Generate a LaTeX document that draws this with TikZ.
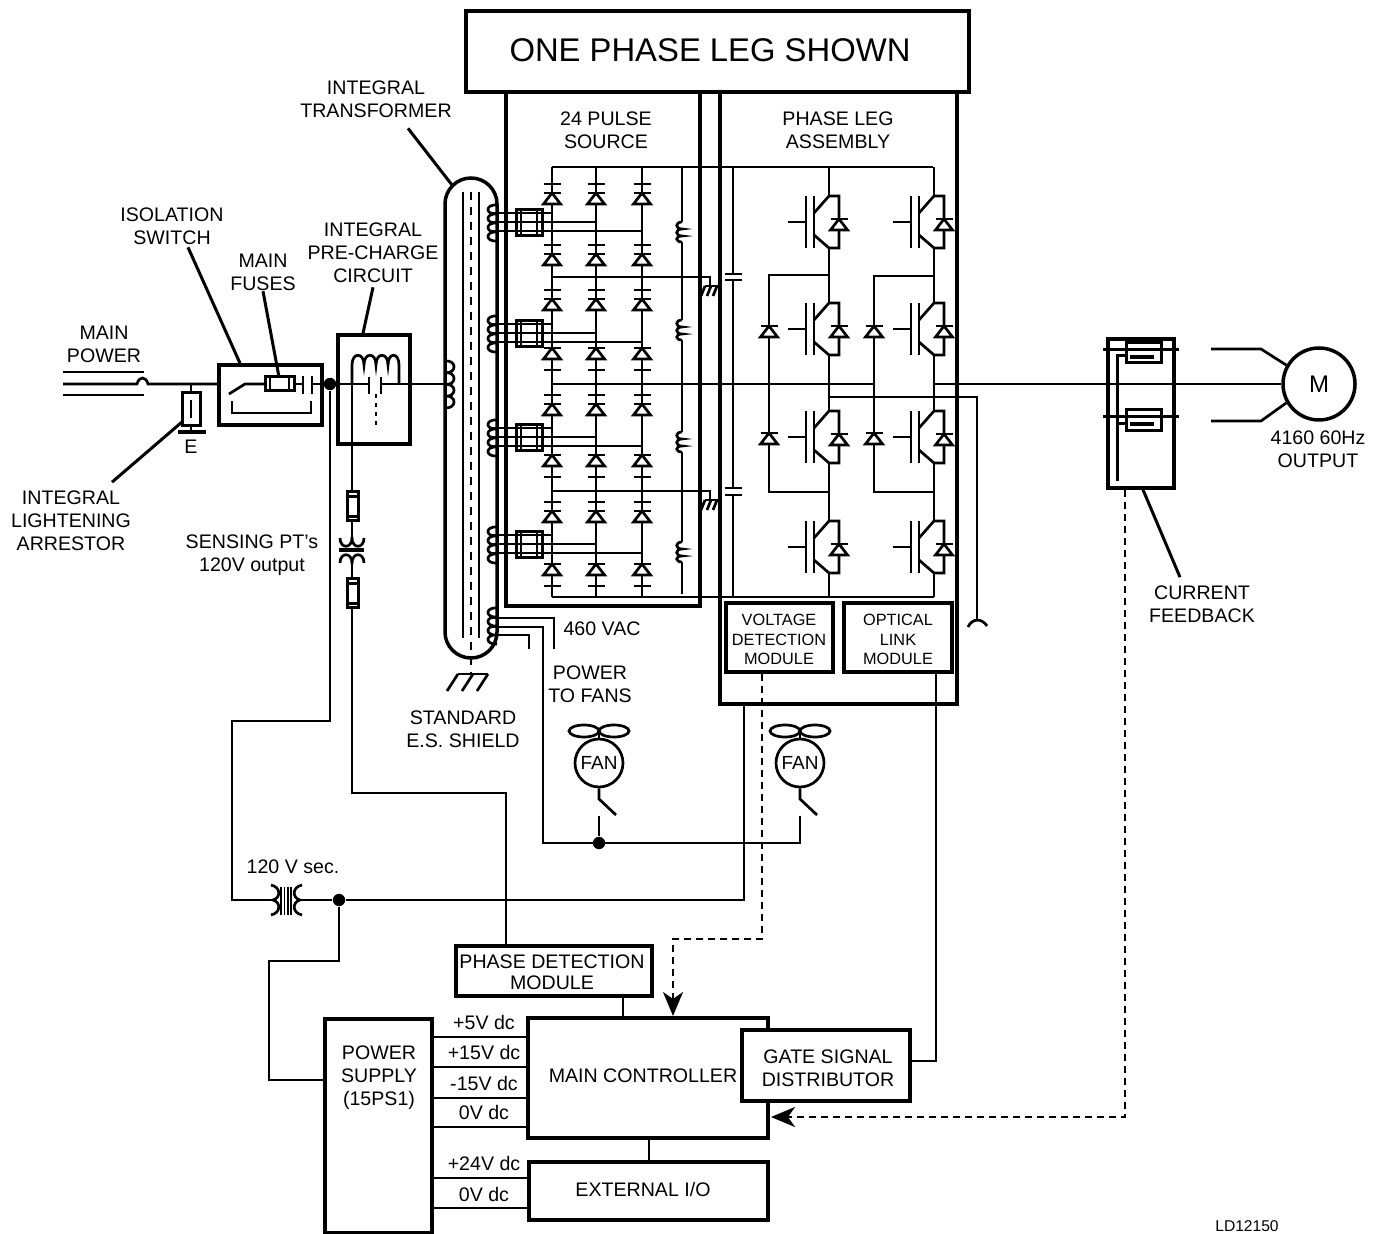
\documentclass[tikz,border=0pt]{standalone}
\usepackage{fontspec}
\setmainfont{Liberation Sans}
\usetikzlibrary{positioning, arrows.meta, calc}

\tikzset{
    wire/.style={line width=1.35pt},
    heavywire/.style={line width=1.75pt},
    leader/.style={line width=1.5pt},
    sigdash/.style={wire, dash pattern=on 3.5pt off 2.5pt},
    blockbox/.style={draw, line width=1.75pt, inner sep=0pt},
    lbl/.style={inner sep=0pt, align=center, font=\fontsize{9.8}{11.5}\selectfont},
    tinylbl/.style={inner sep=0pt, align=center, font=\fontsize{8.15}{9.75}\selectfont},
    joint/.style={circle, fill=black, inner sep=0pt, minimum size=6.2pt},
    fancirc/.style={circle, draw, wire, inner sep=0pt, minimum size=24pt, font=\fontsize{9.5}{11}\selectfont},
    sigtip/.style={-{Stealth[length=12pt, width=10pt, inset=3.5pt]}},
    pics/diodeup/.style={code={
        \draw[wire] (-8.5,0) -- (8.5,0);
        \draw[wire, fill=white] (0,0) -- (8.5,11) -- (-8.5,11) -- cycle;
    }},
    pics/platebar/.style={code={\draw[wire] (-8.5,0) -- (8.5,0);}},
    pics/igbt/.style={code={
        \draw[wire] (-41,26) -- (-23,26);
        \draw[wire] (-23,0) -- (-23,52);
        \draw[wire] (-15,0) -- (-15,52);
        \draw[wire] (-15,17) -- (0,0) -- (10,0) -- (10,52) -- (0,52) -- (-15,39);
        \pic at (10,23) {diodeup};
    }},
    pics/coilbank/.style={code={
        \draw[wire] (0,0) .. controls (-12,-1) and (-12,10) .. (0,9)
            .. controls (-12,8) and (-12,19) .. (0,18)
            .. controls (-12,17) and (-12,28) .. (0,27)
            .. controls (-12,26) and (-12,37) .. (0,36);
    }},
    pics/squiggle/.style={code={
        \draw[wire] (0,0) .. controls (-7,0) and (-7,7) .. (0,7)
            .. controls (-7,7) and (-7,14) .. (0,14)
            .. controls (-7,14) and (-7,20) .. (0,20);
    }},
    pics/fusehoriz/.style={code={
        \draw[leader] (-14.5,-7) rectangle (14.5,7);
        \draw[wire] (-9.5,-7) -- (-9.5,7);
        \draw[wire] (9.5,-7) -- (9.5,7);
    }},
    pics/fusevert/.style={code={
        \draw[leader] (-5.5,-14.5) rectangle (5.5,14.5);
        \draw[wire] (-5.5,-10) -- (5.5,-10);
        \draw[wire] (-5.5,10) -- (5.5,10);
    }},
    pics/slashground/.style={code={
        \draw[wire] (-6,0) -- (7,0);
        \foreach \sx in {-6,0,6} {\draw[wire] (\sx,0) -- (\sx-4,10);}
    }},
    pics/blades/.style={code={
        \draw[wire] (-15,0) ellipse (15 and 6);
        \draw[wire] (15,0) ellipse (15 and 6);
    }}
}

\begin{document}
\begin{tikzpicture}[x=0.5pt, y=-0.5pt]
    \path[use as bounding box, fill=white] (0,0) rectangle (1381,1234);

    % Large frames
    \node[blockbox, minimum width=97pt, minimum height=257pt] (srcbox) at (603,349) {};
    \node[blockbox, minimum width=118.5pt, minimum height=306pt] (legbox) at (838.5,398) {};
    \node[blockbox, fill=white, minimum width=251.5pt, minimum height=40.5pt] (titlebox) at (717.5,51.5) {};
    \node[lbl, font=\fontsize{16.4}{18}\selectfont] (titlelabel) at (710,50) {ONE PHASE LEG SHOWN};
    \node[lbl] (srclabel) at (606,130.5) {24 PULSE\\SOURCE};
    \node[lbl] (leglabel) at (838,130.5) {PHASE LEG\\ASSEMBLY};

    % Incoming power
    \node[lbl] (powerlabel) at (104,344) {MAIN\\POWER};
    \draw[wire] (63,372) -- (144,372);
    \draw[wire] (63,395) -- (144,395);
    \node[blockbox, minimum width=51.5pt, minimum height=30pt] (isolbox) at (270.5,395) {};
    \draw[wire] (63,384) -- (137,384) .. controls (139,376) and (146,376) .. (148,384) -- (isolbox.west |- 0,384);
    \node[blockbox, line width=1.5pt, minimum width=9pt, minimum height=16.5pt] (arrestbox) at (191,409.5) {};
    \draw[wire] (arrestbox.north |- 0,384) -- (arrestbox.north);
    \draw[wire] (191,400) -- (191,418);
    \draw[wire] (arrestbox.south) -- (191,432);
    \draw[heavywire] (178,432) -- (206,432);
    \node[lbl] (earthlabel) at (191,447) {E};
    \node[lbl] (arrestlabel) at (71,520.5) {INTEGRAL\\LIGHTENING\\ARRESTOR};
    \draw[leader] (182,422) -- ([xshift=20.5pt,yshift=4pt]arrestlabel.north);

    % Isolation switch and fuses
    \draw[wire] (229,394) -- (245,384) -- (265,384);
    \pic at (279.5,384) {fusehoriz};
    \draw[wire] (294,384) -- (303,384);
    \draw[wire] (303,376) -- (303,394);
    \draw[wire] (312,376) -- (312,394);
    \draw[wire] (232,401) -- (232,413) -- (311,413) -- (311,401);
    \node[joint] (jointa) at (330,384) {};
    \draw[wire] (312,384) -- (jointa);
    \node[lbl] (isollabel) at (172,226.5) {ISOLATION\\SWITCH};
    \draw[leader] ([xshift=8pt,yshift=-1pt]isollabel.south) -- (240,0 |- isolbox.north);
    \node[lbl] (fuselabel) at (263,272.5) {MAIN\\FUSES};
    \draw[leader] (fuselabel.south) -- (279,377);

    % Pre-charge circuit
    \node[blockbox, minimum width=36pt, minimum height=54.5pt] (chargebox) at (374,389.5) {};
    \node[lbl] (chargelabel) at (373,253) {INTEGRAL\\PRE-CHARGE\\CIRCUIT};
    \draw[leader] ([yshift=-2pt]chargelabel.south) -- (363,0 |- chargebox.north);
    \draw[wire] (jointa) -- (369,384);
    \draw[wire] (369,377) -- (369,394);
    \draw[wire] (381,377) -- (381,394);
    \draw[wire] (381,384) -- (445,384);
    \draw[wire] (352,384) -- (352,365) .. controls (352,352) and (364,352) .. (364,365)
        .. controls (364,352) and (376,352) .. (376,365)
        .. controls (376,352) and (388,352) .. (388,365)
        .. controls (388,352) and (399,352) .. (399,365) -- (399,384);
    \draw[wire, dash pattern=on 2pt off 2.5pt] (376,394) -- (376,430);

    % Sensing PT
    \draw[wire] (352,384) -- (352,492);
    \pic at (352.5,506.5) {fusevert};
    \draw[wire] (352,521) -- (352,538);
    \draw[wire] (340,538) .. controls (340,549) and (352,549) .. (352,538) .. controls (352,549) and (364,549) .. (364,538);
    \draw[heavywire] (339,550) -- (364,550);
    \draw[wire] (340,563) .. controls (340,552) and (352,552) .. (352,563) .. controls (352,552) and (364,552) .. (364,563);
    \draw[wire] (352,563) -- (352,579);
    \pic at (352.5,593.5) {fusevert};
    \node[lbl] (sensinglabel) at (252,555.5) {SENSING PT's\\120V output};

    % Integral transformer
    \draw[heavywire] (445,204) arc[start angle=180, end angle=360, radius=26] -- (497,632) arc[start angle=0, end angle=180, radius=26] -- cycle;
    \draw[wire] (463,192) -- (463,638);
    \draw[wire] (479,192) -- (479,638);
    \draw[wire, dash pattern=on 4pt off 3.5pt] (471,192) -- (471,673);
    \draw[wire] (458,674) -- (488,674);
    \draw[wire] (458,674) -- (447,691);
    \draw[wire] (473,674) -- (462,691);
    \draw[wire] (488,674) -- (477,691);
    \pic[xscale=-1, yscale=1.3] at (445,361) {coilbank};
    \node[lbl] (translabel) at (376,99.5) {INTEGRAL\\TRANSFORMER};
    \draw[leader] ([xshift=16pt,yshift=-5pt]translabel.south) -- (452,185);
    \node[lbl] (shieldlabel) at (463,729.5) {STANDARD\\E.S. SHIELD};

    % Secondary windings into the bridge
    \draw[wire] (552,167) -- (933,167);
    \draw[wire] (552,597) -- (934,597);
    \foreach \cx in {552,596,642} {
        \draw[wire] (\cx,167) -- (\cx,597);
        \foreach \ry in {184,245,290,395,502} {
            \pic at (\cx,\ry) {platebar};
            \pic at (\cx,\ry+9) {diodeup};
        }
        \foreach \ry in {348,455,564} {
            \pic at (\cx,\ry) {diodeup};
            \pic at (\cx,\ry+22) {platebar};
        }
    }
    \foreach \ty in {205,316,420,527} {
        \pic at (497,\ty) {coilbank};
        \draw[wire] (489,\ty+8) -- (552,\ty+8);
        \draw[wire] (489,\ty+17) -- (596,\ty+17);
        \draw[wire] (489,\ty+26) -- (642,\ty+26);
        \draw[leader] (516,\ty+5) rectangle (542,\ty+31);
        \draw[wire] (521,\ty+5) -- (521,\ty+31);
        \draw[wire] (537,\ty+5) -- (537,\ty+31);
    }
    \pic at (497,608) {coilbank};
    \draw[wire] (489,618) -- (554,618) -- (554,649);
    \draw[wire] (489,635) -- (529,635) -- (529,649);
    \node[lbl] (vaclabel) at (602,629) {460 VAC};
    \node[lbl] (fanslabel) at (590,684.5) {POWER\\TO FANS};

    % Neutral buses and reactors
    \draw[wire] (552,277) -- (710,277) -- (710,286);
    \pic at (711,286) {slashground};
    \draw[wire] (552,491) -- (710,491) -- (710,500);
    \pic at (711,500) {slashground};
    \foreach \ya/\yb in {167/222,242/320,340/432,452/542,562/594} {\draw[wire] (682,\ya) -- (682,\yb);}
    \foreach \ty in {222,320,432,542} {\pic at (682,\ty) {squiggle};}

    % Phase leg
    \draw[wire] (733,167) -- (733,274);
    \draw[wire] (733,280) -- (733,488);
    \draw[wire] (733,495) -- (733,597);
    \foreach \ry in {274,280,488,495} {\draw[wire] (725,\ry) -- (742,\ry);}
    \foreach \cx in {829,934} {
        \draw[wire] (\cx,167) -- (\cx,196);
        \draw[wire] (\cx,248) -- (\cx,303);
        \draw[wire] (\cx,356) -- (\cx,411);
        \draw[wire] (\cx,463) -- (\cx,521);
        \draw[wire] (\cx,573) -- (\cx,597);
        \foreach \ty in {196,303,411,521} {\pic at (\cx,\ty) {igbt};}
    }
    \draw[wire] (829,275) -- (769,275) -- (769,492) -- (829,492);
    \draw[wire] (934,276) -- (874,276) -- (874,492) -- (934,492);
    \foreach \cx in {769,874} {
        \pic at (\cx,326) {diodeup};
        \pic at (\cx,433) {diodeup};
    }
    \draw[wire] (552,384) -- (874,384);
    \draw[wire] (829,397) -- (977,397) -- (977,621);
    \draw[wire] (968,627) .. controls (972,618) and (982,618) .. (987,626);
    \node[blockbox, minimum width=53.5pt, minimum height=34.5pt] (voltbox) at (779.5,637.5) {};
    \node[tinylbl] (voltlabel) at (779,639.5) {VOLTAGE\\DETECTION\\MODULE};
    \node[blockbox, minimum width=54pt, minimum height=34.5pt] (opticbox) at (898,637.5) {};
    \node[tinylbl] (opticlabel) at (898,639.5) {OPTICAL\\LINK\\MODULE};

    % Current feedback and motor
    \node[blockbox, minimum width=33pt, minimum height=74.5pt] (sensebox) at (1141,413.5) {};
    \node[circle, draw, heavywire, inner sep=0pt, minimum size=36pt, font=\fontsize{12}{14}\selectfont] (motor) at (1319,384) {M};
    \draw[wire] (934,384) -- (motor.west);
    \draw[leader] (1103,350) -- (1179,350);
    \draw[leader] (1103,417) -- (1179,417);
    \draw[leader] (1126,343) rectangle (1161,363);
    \draw[leader] (1126,410) rectangle (1161,431);
    \draw[heavywire] (1130,357) -- (1154,357);
    \draw[heavywire] (1130,424) -- (1154,424);
    \draw[leader] (1126,356) -- (1117,356) -- (1117,481);
    \draw[leader] (1117,424) -- (1126,424);
    \draw[wire] (1211,349) -- (1261,349) -- (motor.150);
    \draw[wire] (1211,421) -- (1261,421) -- (motor.210);
    \node[lbl] (outlabel) at (1318,449) {4160 60Hz\\OUTPUT};
    \node[lbl] (fblabel) at (1202,604) {CURRENT\\FEEDBACK};
    \draw[leader] (1143,0 |- sensebox.south) -- ([xshift=-11pt,yshift=4pt]fblabel.north);

    % Fans
    \node[joint] (jointb) at (599,843) {};
    \draw[wire] (489,627) -- (543,627) -- (543,843) -- (800,843) -- (800,816);
    \node[fancirc] (fanleft) at (599,763) {FAN};
    \node[fancirc] (fanright) at (800,763) {FAN};
    \draw[wire] (jointb) -- (599,816);
    \foreach \fan/\cx in {fanleft/599,fanright/800} {
        \pic at (\cx,731) {blades};
        \draw[wire] (\cx,731) -- (\fan.north);
        \draw[wire] (\fan.south) -- (\cx,799) -- (\cx+17,815);
    }

    % Low voltage distribution
    \node[joint] (jointc) at (339,900) {};
    \draw[wire] (jointa) -- (330,721) -- (232,721) -- (232,900) -- (273,900);
    \draw[wire] (271,885) .. controls (281,887) and (281,898) .. (273,900) .. controls (281,902) and (281,913) .. (271,915);
    \draw[wire] (302,885) .. controls (292,887) and (292,898) .. (300,900) .. controls (292,902) and (292,913) .. (302,915);
    \foreach \cx in {281,284.3,287.7,291} {\draw[line width=0.8pt] (\cx,887) -- (\cx,915);}
    \draw[wire] (300,900) -- (jointc) -- (744,900) -- (744,0 |- legbox.south);
    \node[lbl] (seclabel) at (293,867) {120 V sec.};

    % Control blocks
    \node[blockbox, minimum width=98pt, minimum height=25pt] (phasebox) at (554,971) {};
    \node[lbl, font=\fontsize{9.8}{10.5}\selectfont] (phaselabel) at (552,972.5) {PHASE DETECTION\\MODULE};
    \node[blockbox, minimum width=120pt, minimum height=60pt] (mainbox) at (648,1078) {};
    \node[lbl] (mainlabel) at (643,1076) {MAIN CONTROLLER};
    \node[blockbox, fill=white, minimum width=84pt, minimum height=35.5pt] (gatebox) at (826,1065.5) {};
    \node[lbl] (gatelabel) at (828,1068.5) {GATE SIGNAL\\DISTRIBUTOR};
    \node[blockbox, minimum width=53.5pt, minimum height=107pt] (psubox) at (378.5,1126) {};
    \node[lbl] (psulabel) at (379,1077.5) {POWER\\SUPPLY\\(15PS1)};
    \node[blockbox, minimum width=119.5pt, minimum height=29pt] (iobox) at (648.5,1191) {};
    \node[lbl] (iolabel) at (643,1189) {EXTERNAL I/O};
    \draw[wire] (352,608) -- (352,793) -- (506,793) -- (506,0 |- phasebox.north);
    \draw[wire] (623,0 |- phasebox.south) -- (623,0 |- mainbox.north);
    \draw[wire] (649,0 |- mainbox.south) -- (649,0 |- iobox.north);
    \draw[wire] (jointc) -- (339,961) -- (269,961) -- (269,1080) -- (psubox.west |- 0,1080);
    \draw[wire] (936,0 |- opticbox.south) -- (936,1061) -- (gatebox.east |- 0,1061);
    \foreach \ry/\rt/\vname in {1037/1022/{+5V dc},1067/1052/{+15V dc},1098/1083/{-15V dc},1127/1112/{0V dc}} {
        \draw[wire] (psubox.east |- 0,\ry) -- (mainbox.west |- 0,\ry);
        \node[lbl] at (484,\rt) {\vname};
    }
    \foreach \ry/\rt/\vname in {1178/1163/{+24V dc},1208/1194/{0V dc}} {
        \draw[wire] (psubox.east |- 0,\ry) -- (iobox.west |- 0,\ry);
        \node[lbl] at (484,\rt) {\vname};
    }
    \draw[sigdash, sigtip] (762,0 |- voltbox.south) -- (762,939) -- (673,939) -- (673,1016);
    \draw[sigdash, sigtip] (1125,0 |- sensebox.south) -- (1125,1117) -- (771,1117);
    \node[inner sep=0pt, font=\fontsize{7.8}{9}\selectfont] (drawingno) at (1247,1226) {LD12150};
\end{tikzpicture}
\end{document}
